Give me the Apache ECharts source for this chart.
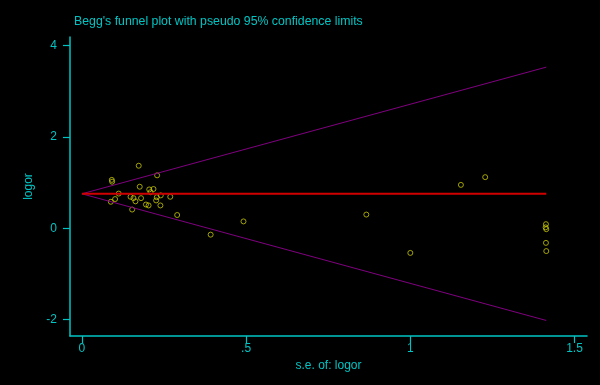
<!DOCTYPE html>
<html>
<head>
<meta charset="utf-8">
<script src="https://cdn.jsdelivr.net/npm/echarts@6/dist/echarts.min.js"></script>
<style>
html,body{margin:0;padding:0;background:#000;}
#chart{width:600px;height:385px;}
</style>
</head>
<body>
<div id="chart"></div>
<script>
// Study standard errors (x) and log odds ratios (y)
var seValues = [0.091, 0.092, 0.088, 0.101, 0.112, 0.148, 0.157, 0.163, 0.153, 0.173, 0.176, 0.180,
  0.195, 0.203, 0.205, 0.218, 0.209, 0.229, 0.228, 0.226, 0.240, 0.239, 0.269, 0.290,
  0.392, 0.492, 0.866, 1.000, 1.154, 1.228, 1.413, 1.412, 1.414, 1.413, 1.414];
var logorValues = [1.06, 1.02, 0.58, 0.64, 0.76, 0.69, 0.66, 0.59, 0.41, 1.37, 0.91, 0.66,
  0.52, 0.50, 0.85, 0.86, 0.79, 1.16, 0.68, 0.61, 0.72, 0.50, 0.69, 0.29,
  -0.14, 0.15, 0.30, -0.54, 0.95, 1.12, 0.09, 0.02, -0.02, -0.32, -0.50];
// Pooled estimate line and pseudo 95% limits at se = 0 and se = max
var limitSE = [0, 1.414];
var pooledLine = [0.755, 0.755];
var upperLimit = [0.755, 3.53];
var lowerLimit = [0.755, -2.02];
var xTicks = [0, 0.5, 1, 1.5];
var xTickLabels = ['0', '.5', '1', '1.5'];
var yTicks = [-2, 0, 2, 4];

var cyan = '#00c4c4';
var font = 'Liberation Sans, Arial, sans-serif';
var chart = echarts.init(document.getElementById('chart'));
function pairs(xs, ys) { return xs.map(function (x, i) { return [x, ys[i]]; }); }

chart.setOption({
  backgroundColor: '#000000',
  animation: false,
  title: {
    text: "Begg's funnel plot with pseudo 95% confidence limits",
    left: 69, top: 11,
    textStyle: { color: cyan, fontSize: 12.3, fontWeight: 'normal', fontFamily: font }
  },
  grid: { left: 70, right: 13, top: 37, bottom: 49, containLabel: false },
  xAxis: {
    type: 'value', min: -0.0363, max: 1.538,
    name: 's.e. of: logor', nameLocation: 'middle', nameGap: 21,
    nameTextStyle: { color: cyan, fontSize: 12, fontFamily: font },
    axisLine: { onZero: false, lineStyle: { color: cyan, width: 1.5 } },
    axisTick: { show: true, length: 7, customValues: xTicks, lineStyle: { color: cyan, width: 1.2 } },
    axisLabel: {
      customValues: xTicks, margin: 7, color: cyan, fontSize: 12, fontFamily: font,
      formatter: function (v) { var i = xTicks.indexOf(v); return i >= 0 ? xTickLabels[i] : ''; }
    },
    splitLine: { show: false }
  },
  yAxis: {
    type: 'value', min: -2.36, max: 4.19,
    name: 'logor', nameLocation: 'middle', nameGap: 35,
    nameTextStyle: { color: cyan, fontSize: 12, fontFamily: font },
    axisLine: { onZero: false, lineStyle: { color: cyan, width: 1.5 } },
    axisTick: { show: true, length: 7, customValues: yTicks, lineStyle: { color: cyan, width: 1.2 } },
    axisLabel: { customValues: yTicks, margin: 13, color: cyan, fontSize: 12, fontFamily: font },
    splitLine: { show: false }
  },
  series: [
    { type: 'line', data: pairs(limitSE, upperLimit), symbol: 'none', lineStyle: { color: '#800080', width: 1 }, silent: true },
    { type: 'line', data: pairs(limitSE, lowerLimit), symbol: 'none', lineStyle: { color: '#800080', width: 1 }, silent: true },
    { type: 'line', data: pairs(limitSE, pooledLine), symbol: 'none', lineStyle: { color: '#d00000', width: 2 }, silent: true },
    {
      type: 'scatter', data: pairs(seValues, logorValues), symbol: 'circle', symbolSize: 5,
      itemStyle: { color: 'rgba(0,0,0,0)', borderColor: '#c8c800', borderWidth: 1 }
    }
  ]
});
</script>
</body>
</html>
